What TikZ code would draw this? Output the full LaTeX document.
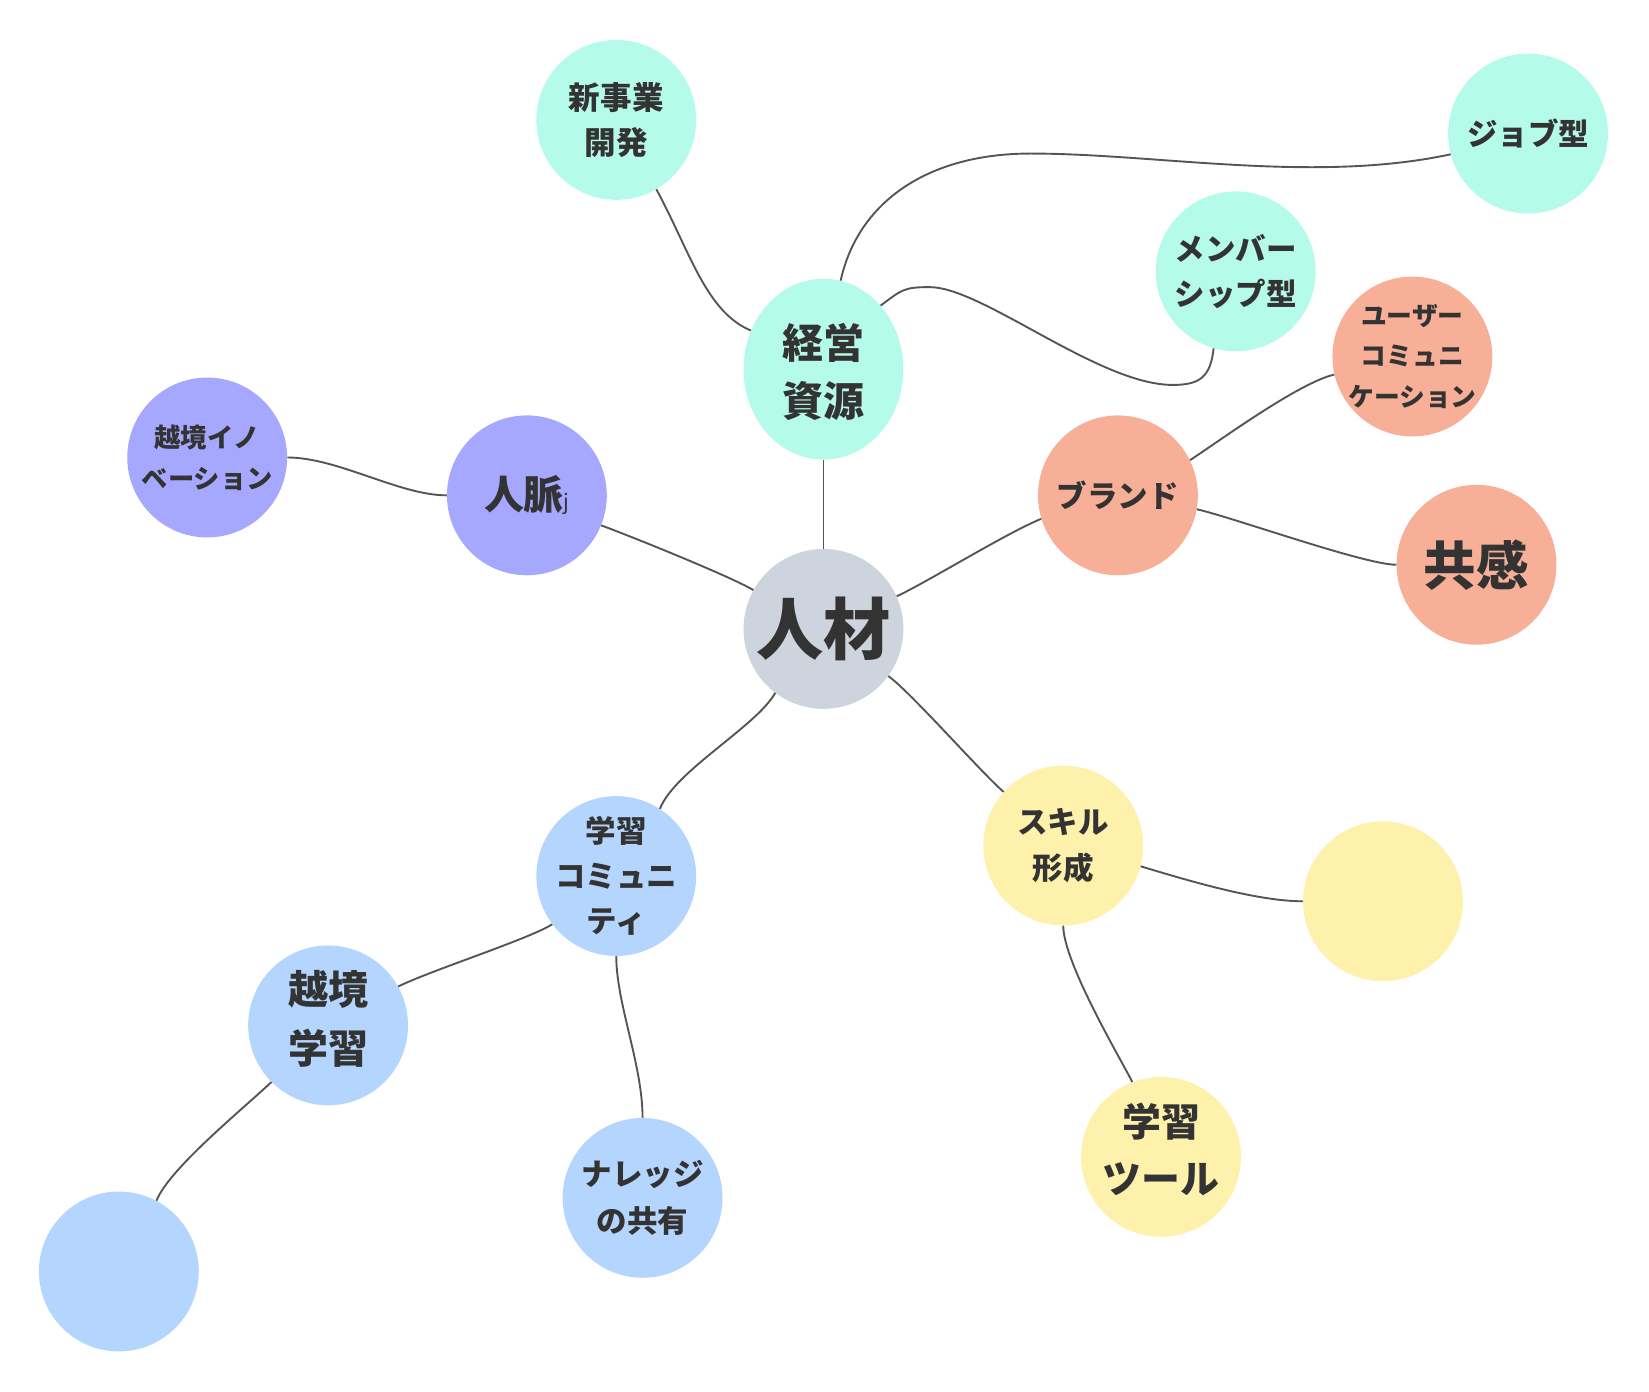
\documentclass[tikz,border=0pt]{standalone}
\usepackage{fontspec}
\setmainfont{Noto Sans CJK JP}
\usetikzlibrary{shapes.geometric}
\definecolor{cgray}{HTML}{CDD4DD}
\definecolor{cmint}{HTML}{B5FBEA}
\definecolor{csal}{HTML}{F8AF97}
\definecolor{cpur}{HTML}{A5A8FE}
\definecolor{cblue}{HTML}{B4D5FE}
\definecolor{cyel}{HTML}{FEF1AB}
\definecolor{txt}{HTML}{333333}
\definecolor{ln}{HTML}{555555}
\begin{document}
\begin{tikzpicture}[x=1pt,y=-1pt,
  bub/.style={circle, minimum size=152pt, inner sep=-20pt, align=center, text=txt},
  tx/.style={inner sep=0pt, align=center, text=txt},
  fz/.style n args={2}{font=\bfseries\fontsize{#1}{#2}\selectfont},
  con/.style={draw=ln, line width=1.8pt}]
\useasboundingbox (0,0) rectangle (1568,1323.6);
% nodes
\node[bub,fill=cgray,fz={64}{70}] (ren) at (783,598) {人材};
\node[ellipse,minimum width=152pt,minimum height=172pt,inner sep=0pt,fill=cmint] (keiei) at (783,351) {};
\node[tx,fz={39}{55}] (keieit) at ([yshift=-3pt]keiei.center) {経営\\資源};
\node[bub,fill=cmint,fz={30}{43}] (shin) at (586,114) {新事業\\開発};
\node[bub,fill=cmint,fz={29}{43}] (job) at (1453,127) {ジョブ型};
\node[bub,fill=cmint,fz={29}{43}] (mem) at (1175,258) {メンバー\\シップ型};
\node[bub,fill=csal,fz={29}{43}] (brand) at (1063,471) {ブランド};
\node[bub,fill=csal,fz={24.5}{38.5}] (user) at (1343,339) {ユーザー\\コミュニ\\ケーション};
\node[bub,fill=csal,fz={50}{60}] (kyo) at (1404,537) {共感};
\node[bub,fill=cpur,fz={38}{50}] (jin) at (501,471) {人脈{\mdseries\fontsize{20}{20}\selectfont j}};
\node[bub,fill=cpur,fz={25}{39}] (eino) at (197,435) {越境イノ\\ベーション};
\node[bub,fill=cblue,fz={29}{43}] (gcom) at (586,833) {学習\\コミュニ\\ティ};
\node[bub,fill=cblue] (egak) at (312,975) {};
\node[tx,fz={38}{56}] (egakt) at ([yshift=6pt]egak.center) {越境\\学習};
\node[bub,fill=cblue] (bemp) at (113,1209) {};
\node[bub,fill=cblue,fz={29}{44}] (know) at (611,1139) {ナレッジ\\の共有};
\node[bub,fill=cyel,fz={29}{43}] (skill) at (1011,804) {スキル\\形成};
\node[bub,fill=cyel] (yemp) at (1315,857) {};
\node[bub,fill=cyel] (tool) at (1104,1100) {};
\node[tx,fz={37}{55}] (toolt) at ([yshift=7pt]tool.center) {学習\\ツール};
% helper coordinates
\coordinate (jm) at (980,146);
\coordinate (mpk) at (884,273);
\coordinate (mlow) at (1115,366);
% connectors
\draw[con] (ren.north) -- (keiei.south);
\draw[con] (keiei.152) .. controls +(-43,-18) and +(32,59) .. (shin.-60.7);
\draw[con] (keiei.79) .. controls +(16,-73) and +(-100,0) .. (jm) .. controls +(120,0) and +(-130,28) .. (job.195);
\draw[con] (keiei.48.5) .. controls +(20,-15) and +(-25,0) .. (mpk) .. controls +(50,0) and +(-70,0) .. (mlow) .. controls +(25,0) and +(-3,28) .. (mem.254.4);
\draw[con] (ren.24.5) .. controls +(30,-14) and +(-34,14) .. (brand.197.3);
\draw[con] (brand.26.6) .. controls +(29,-19) and +(-34,8) .. (user.193.7);
\draw[con] (brand.-10.6) .. controls +(35,8) and +(-30,0) .. (kyo.180);
\draw[con] (ren.151.7) .. controls +(-20,-12) and +(35,13) .. (jin.-22.2);
\draw[con] (jin.180) .. controls +(-45,0) and +(48,0) .. (eino.0);
\draw[con] (ren.233) .. controls +(-18,32) and +(14,-36) .. (gcom.57.1);
\draw[con] (gcom.217.2) .. controls +(-22,14) and +(30,-15) .. (egak.29.9);
\draw[con] (gcom.south) .. controls +(0,45) and +(0,-50) .. (know.north);
\draw[con] (egak.225.5) .. controls +(-30,28) and +(12,-30) .. (bemp.62.1);
\draw[con] (ren.-36.9) .. controls +(22,16) and +(-22,-19) .. (skill.138.7);
\draw[con] (skill.-15.6) .. controls +(40,12) and +(-45,0) .. (yemp.180);
\draw[con] (skill.south) .. controls +(0,35) and +(-10,-20) .. (tool.111);
\end{tikzpicture}
\end{document}
